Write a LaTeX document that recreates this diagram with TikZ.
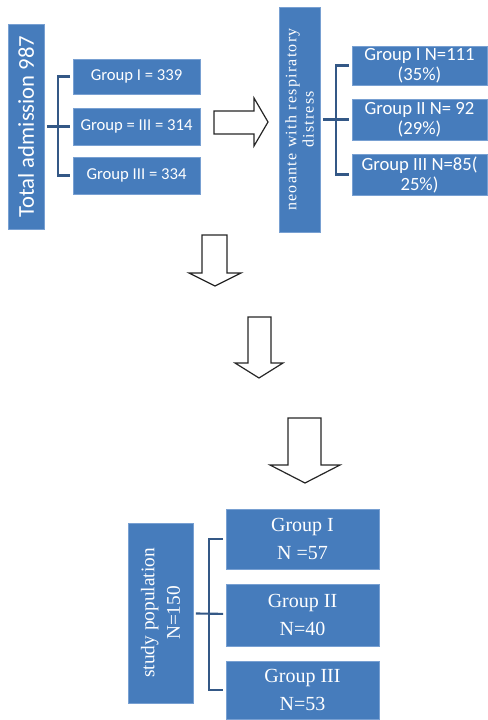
\documentclass[tikz,border=0pt]{standalone}
\usepackage{fontspec}
\setmainfont{Liberation Serif}
\newfontfamily\calibri{Carlito}
\newfontfamily\spacedserif[LetterSpace=8]{Liberation Serif}
\usepackage{xcolor}
\usetikzlibrary{arrows}

\definecolor{boxblue}{RGB}{70,124,188}
\definecolor{rimblue}{RGB}{120,160,210}
\definecolor{linkblue}{RGB}{52,88,134}

\begin{document}
\begin{tikzpicture}[
    x = 0.75pt, y = -0.75pt, % one unit = one pixel, y downwards
    semithick % line style
]
\tikzstyle{box}=[
    draw = rimblue,
    fill = boxblue,
    text = white,
    thin,
    align = center,
    inner sep = 1pt
]
\tikzstyle{link}=[
    draw = linkblue,
    line width = 1.6pt,
    shorten > = 2pt,
    shorten < = 2pt
]
\tikzstyle{hollow}=[
    draw = black!85,
    line width = 0.9pt,
    fill = white
]

\useasboundingbox (0,0) rectangle (487,720);

% admissions
\node[box, rotate=90, minimum width=153.75pt, minimum height=27pt,
      font=\calibri\fontsize{17}{20}\selectfont] (total) at (26,126.5) {Total admission 987};
\node[box, minimum width=95.25pt, minimum height=26.25pt,
      font=\calibri\fontsize{12.5}{14}\selectfont] (g1) at (136.5,76.5) {Group I = 339};
\node[box, minimum width=95.25pt, minimum height=27.75pt,
      font=\calibri\fontsize{12.5}{14}\selectfont] (g2) at (136.5,126.5) {Group = III = 314};
\node[box, minimum width=95.25pt, minimum height=27.75pt,
      font=\calibri\fontsize{12.5}{14}\selectfont] (g3) at (136.5,175.5) {Group III = 334};

\draw[link] (total) -- (g2);
\draw[link] (g1.west) -- ++(-15,0) |- (g3.west);

\draw[hollow] (214,111) -- (254,111) -- (254,98) -- (268,122) -- (254,146)
    -- (254,134) -- (214,134) -- cycle;

% respiratory distress
\node[box, rotate=90, minimum width=168.75pt, minimum height=30.75pt,
      font=\spacedserif\fontsize{12}{13}\selectfont] (neo) at (299.5,119.5)
      {neoante with respiratory\\distress};
\node[box, minimum width=101.25pt, minimum height=29.25pt,
      font=\calibri\fontsize{14}{15}\selectfont] (r1) at (419.5,65.5) {Group I N=111\\(35\%)};
\node[box, minimum width=101.25pt, minimum height=30.75pt,
      font=\calibri\fontsize{14}{15}\selectfont] (r2) at (419.5,119.5) {Group II N= 92\\(29\%)};
\node[box, minimum width=101.25pt, minimum height=30.75pt,
      font=\calibri\fontsize{14}{15}\selectfont] (r3) at (419.5,174.5) {Group III N=85(\\25\%)};

\draw[link] (neo) -- (r2);
\draw[link] (r1.west) -- ++(-16,0) |- (r3.west);

% down arrows
\draw[hollow] (202,235) -- (227,235) -- (227,273) -- (241,273) -- (215,286)
    -- (189,273) -- (202,273) -- cycle;
\draw[hollow] (248,317) -- (271,317) -- (271,363) -- (283,363) -- (259,378)
    -- (235,363) -- (248,363) -- cycle;
\draw[hollow] (288,418) -- (321,418) -- (321,465) -- (340,465) -- (305,483)
    -- (270,465) -- (288,465) -- cycle;

% study population
\node[box, rotate=90, minimum width=135pt, minimum height=48.75pt,
      font=\fontsize{14.5}{19}\selectfont] (study) at (160.5,613) {study population\\N=150};
\node[box, minimum width=114.75pt, minimum height=45pt,
      font=\fontsize{15}{21}\selectfont] (b1) at (302.5,539) {Group I\\N =57};
\node[box, minimum width=114.75pt, minimum height=46.5pt,
      font=\fontsize{15}{21}\selectfont] (b2) at (302.5,615) {Group II\\N=40};
\node[box, minimum width=114.75pt, minimum height=43.5pt,
      font=\fontsize{15}{21}\selectfont] (b3) at (302.5,690) {Group III\\N=53};

\draw[link] (study) -- (b2);
\draw[link] (b1.west) -- ++(-17,0) |- (b3.west);

\end{tikzpicture}
\end{document}
